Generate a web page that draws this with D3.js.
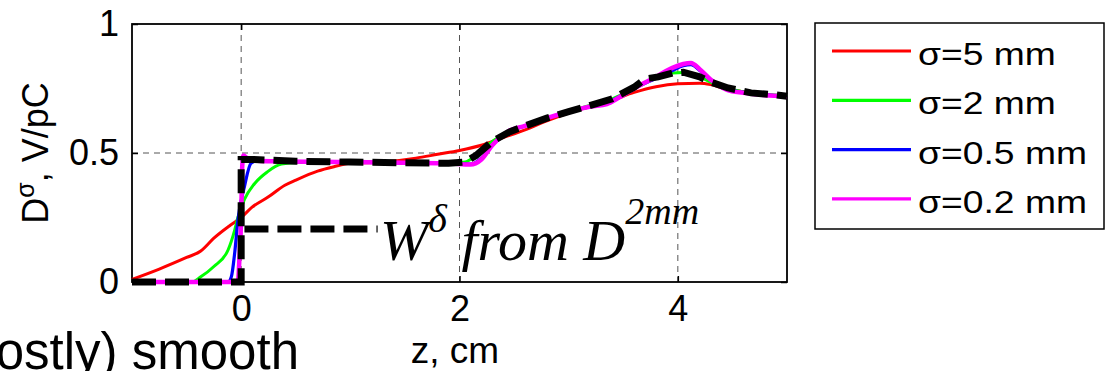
<!DOCTYPE html>
<html><head><meta charset="utf-8">
<script src="https://cdn.jsdelivr.net/npm/d3@7"></script>
<style>
html,body{margin:0;padding:0;background:#fff;}
svg{display:block;}
</style></head>
<body><svg id="c" width="1111" height="371"></svg>
<script>
// ---------- data ----------
const xTicks = [0, 2, 4];
const yTicks = [0, 0.5, 1];
const xTickLabels = ["0", "2", "4"];
const yTickLabels = ["0", "0.5", "1"];

const seriesNames = ["σ=5 mm", "σ=2 mm", "σ=0.5 mm", "σ=0.2 mm"];
const seriesColors = ["#ff0000", "#00ff00", "#0000ff", "#ff00ff"];

const redZ = [-1, -0.75, -0.5, -0.37, -0.25, -0.1, 0, 0.1, 0.25, 0.4, 0.5, 0.7, 0.85, 1.0, 1.3, 1.6, 1.8, 2.0, 2.2, 2.4, 2.6, 2.8, 3.0, 3.2, 3.4, 3.6, 3.8, 4.0, 4.2, 4.3, 4.45, 4.6, 4.8, 5.0];
const redY = [0.01, 0.05, 0.095, 0.12, 0.17, 0.22, 0.25, 0.29, 0.33, 0.375, 0.395, 0.43, 0.447, 0.46, 0.465, 0.48, 0.495, 0.51, 0.53, 0.56, 0.59, 0.625, 0.655, 0.68, 0.705, 0.735, 0.757, 0.768, 0.77, 0.765, 0.748, 0.738, 0.726, 0.72];

const greenZ = [-1, -0.45, -0.37, -0.25, -0.12, -0.06, -0.03, 0.03, 0.12, 0.24, 0.37, 0.52, 1.0, 1.5, 1.9, 2.05, 2.15, 2.3, 2.45, 2.6, 2.8, 3.0, 3.2, 3.4, 3.6, 3.8, 3.95, 4.05, 4.2, 4.3, 4.45, 4.65, 4.9, 5.0];
const greenY = [0, 0, 0.02, 0.06, 0.124, 0.2, 0.25, 0.32, 0.38, 0.427, 0.457, 0.463, 0.465, 0.462, 0.46, 0.465, 0.49, 0.545, 0.58, 0.605, 0.635, 0.66, 0.685, 0.71, 0.75, 0.79, 0.81, 0.812, 0.795, 0.775, 0.752, 0.733, 0.725, 0.72];

const blueZ = [-1, -0.12, -0.09, -0.06, -0.03, 0.03, 0.09, 0.15, 0.3, 1.0, 1.5, 1.9, 2.1, 2.2, 2.3, 2.45, 2.6, 2.8, 3.0, 3.2, 3.35, 3.45, 3.6, 3.8, 3.95, 4.05, 4.12, 4.2, 4.3, 4.45, 4.6, 4.8, 5.0];
const blueY = [0, 0, 0.02, 0.11, 0.24, 0.37, 0.46, 0.47, 0.468, 0.465, 0.462, 0.46, 0.457, 0.48, 0.53, 0.585, 0.605, 0.635, 0.66, 0.68, 0.695, 0.715, 0.75, 0.79, 0.82, 0.838, 0.842, 0.82, 0.785, 0.748, 0.735, 0.725, 0.72];

const magentaZ = [-1, -0.03, -0.015, 0, 0.01, 0.02, 0.06, 0.15, 0.3, 1.0, 1.5, 1.9, 2.1, 2.2, 2.3, 2.45, 2.6, 2.8, 3.0, 3.2, 3.35, 3.45, 3.6, 3.8, 3.95, 4.05, 4.12, 4.2, 4.3, 4.45, 4.6, 4.8, 5.0];
const magentaY = [0, 0, 0.1, 0.25, 0.45, 0.49, 0.478, 0.47, 0.468, 0.465, 0.462, 0.46, 0.455, 0.475, 0.53, 0.585, 0.605, 0.635, 0.66, 0.68, 0.69, 0.712, 0.75, 0.795, 0.83, 0.845, 0.849, 0.825, 0.785, 0.745, 0.733, 0.724, 0.72];

const wZ = [-1, 0, 0, 0.1, 0.5, 1.0, 1.5, 1.9, 2.05, 2.15, 2.3, 2.45, 2.6, 2.8, 3.0, 3.2, 3.4, 3.6, 3.7, 3.82, 3.95, 4.05, 4.2, 4.3, 4.46, 4.67, 4.9, 5.0];
const wY = [0, 0, 0.475, 0.475, 0.468, 0.465, 0.462, 0.46, 0.465, 0.49, 0.545, 0.58, 0.605, 0.635, 0.66, 0.685, 0.71, 0.755, 0.787, 0.795, 0.81, 0.813, 0.795, 0.775, 0.752, 0.733, 0.725, 0.72];

// annotation: dashed sample line for W legend inside the axes (data units)
const wSampleZ = [0.03, 1.25];
const wSampleY = [0.205, 0.205];

// ---------- drawing ----------
const svg = d3.select("#c");
svg.append("rect").attr("width", 1111).attr("height", 371).attr("fill", "#fff");

const L = 132, R = 787, T = 24, B = 282;
const x = d3.scaleLinear().domain([-1, 5]).range([L, R]);
const y = d3.scaleLinear().domain([0, 1]).range([B, T]);
const sans = "'Liberation Sans', Arial, Helvetica, sans-serif";
const serif = "'Liberation Serif', 'Times New Roman', Times, serif";

// grid
const grid = svg.append("g").attr("stroke", "#555").attr("stroke-width", 1).attr("stroke-dasharray", "6,5");
xTicks.forEach(v => grid.append("line").attr("x1", x(v)).attr("x2", x(v)).attr("y1", T).attr("y2", B));
yTicks.filter(v => v > 0 && v < 1).forEach(v => grid.append("line").attr("x1", L).attr("x2", R).attr("y1", y(v)).attr("y2", y(v)));

// axes
const xAxis = d3.axisBottom(x).tickValues(xTicks).tickFormat((d, i) => xTickLabels[i]).tickSize(-6).tickPadding(13);
const gx = svg.append("g").attr("transform", `translate(0,${B})`).call(xAxis);
const xAxisTop = d3.axisTop(x).tickValues(xTicks).tickFormat("").tickSize(-6);
const gxt = svg.append("g").attr("transform", `translate(0,${T})`).call(xAxisTop);
const yAxis = d3.axisLeft(y).tickValues(yTicks).tickFormat((d, i) => yTickLabels[i]).tickSize(-6).tickPadding(13);
const gy = svg.append("g").attr("transform", `translate(${L},0)`).call(yAxis);
const yAxisR = d3.axisRight(y).tickValues(yTicks).tickFormat("").tickSize(-6);
const gyr = svg.append("g").attr("transform", `translate(${R},0)`).call(yAxisR);
[gx, gxt, gy, gyr].forEach(g => {
  g.select(".domain").remove();
  g.selectAll("line").attr("stroke", "#000").attr("stroke-width", 1.5);
  g.selectAll("text").attr("font-family", sans).attr("font-size", 36).attr("fill", "#000");
});

// box
svg.append("rect").attr("x", L).attr("y", T).attr("width", R - L).attr("height", B - T)
  .attr("fill", "none").attr("stroke", "#000").attr("stroke-width", 1.8);

// series
const smooth = d3.line().x(d => x(d[0])).y(d => y(d[1])).curve(d3.curveMonotoneX);
const straight = d3.line().x(d => x(d[0])).y(d => y(d[1])).curve(d3.curveLinear);
const zip = (a, b) => a.map((v, i) => [v, b[i]]);
const series = [
  {z: redZ, v: redY, w: 3},
  {z: greenZ, v: greenY, w: 3},
  {z: blueZ, v: blueY, w: 3.2},
  {z: magentaZ, v: magentaY, w: 4.5}
];
series.forEach((s, i) => {
  svg.append("path").attr("d", smooth(zip(s.z, s.v))).attr("fill", "none")
    .attr("stroke", seriesColors[i]).attr("stroke-width", s.w).attr("stroke-linejoin", "round");
});
svg.append("path").attr("d", straight(zip(wZ, wY))).attr("fill", "none")
  .attr("stroke", "#000").attr("stroke-width", 7).attr("stroke-dasharray", "24,9");
svg.append("path").attr("d", straight(zip(wSampleZ, wSampleY))).attr("fill", "none")
  .attr("stroke", "#000").attr("stroke-width", 7).attr("stroke-dasharray", "24,9");

// W annotation text
const wt = svg.append("text").attr("x", 380).attr("y", 260).attr("font-family", serif)
  .attr("font-style", "italic").attr("font-size", 58).attr("fill", "#000");
wt.append("tspan").text("W");
wt.append("tspan").attr("font-size", 40).attr("dy", -28).text("δ");
wt.append("tspan").attr("dy", 28).text(" from D");
wt.append("tspan").attr("font-size", 38).attr("dy", -36).text("2mm");

// axis labels
svg.append("text").attr("x", 455).attr("y", 363).attr("text-anchor", "middle")
  .attr("font-family", sans).attr("font-size", 37).text("z, cm");
const yl = svg.append("text").attr("transform", "translate(48,153) rotate(-90)").attr("text-anchor", "middle")
  .attr("font-family", sans).attr("font-size", 36);
yl.append("tspan").text("D");
yl.append("tspan").attr("font-size", 25).attr("dy", -14).text("σ");
yl.append("tspan").attr("dy", 14).text(", V/pC");

// slide text partially visible
svg.append("text").attr("x", 299).attr("y", 369).attr("text-anchor", "end")
  .attr("font-family", sans).attr("font-size", 51).text("(mostly) smooth");

// legend
const lg = svg.append("g");
lg.append("rect").attr("x", 815).attr("y", 23).attr("width", 289).attr("height", 206)
  .attr("fill", "#fff").attr("stroke", "#000").attr("stroke-width", 1.5);
const lt = [];
seriesNames.forEach((n, i) => {
  const ly = 51 + i * 49.3;
  lg.append("line").attr("x1", 832).attr("x2", 911).attr("y1", ly).attr("y2", ly)
    .attr("stroke", seriesColors[i]).attr("stroke-width", 3.2);
  lt.push(lg.append("text").attr("data-y", ly + 14).attr("font-family", sans).attr("font-size", 31).text(n));
});
const wRef = lt[2].node().getComputedTextLength();
const sx = 169 / wRef;
lt.forEach(t => t.attr("transform", `translate(918,${+t.attr("data-y")}) scale(${sx},1)`));
</script></body></html>
